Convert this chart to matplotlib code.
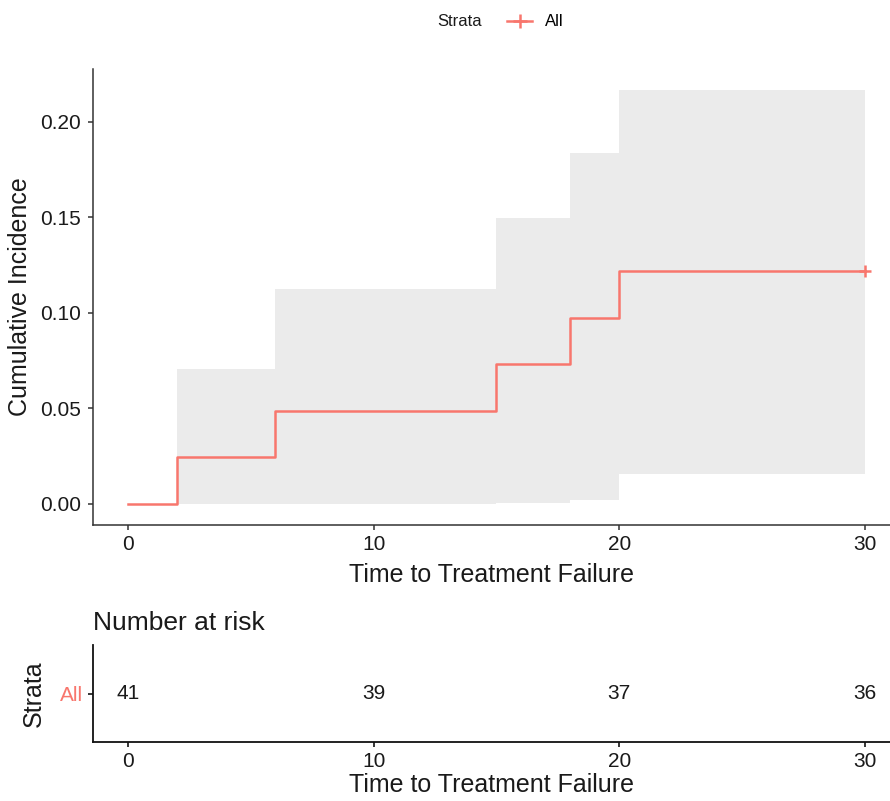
import matplotlib
matplotlib.use("Agg")
import matplotlib.pyplot as plt
from matplotlib.lines import Line2D

# cumulative incidence estimate (step function) with CI
time = [0, 2, 6, 15, 18, 20, 30]
estimate = [0, 0.0244, 0.0488, 0.0732, 0.0976, 0.1220, 0.1220]
upper = [0, 0.0708, 0.1124, 0.1497, 0.1838, 0.2168, 0.2168]
lower = [0, 0, 0, 0.0005, 0.0022, 0.0157, 0.0157]
censor_time = [30]
censor_est = [0.1220]

# number at risk table
risk_times = [0, 10, 20, 30]
n_risk = [41, 39, 37, 36]

x_ticks = [0, 10, 20, 30]
y_ticks = [0.00, 0.05, 0.10, 0.15, 0.20]

RED = "#F8766D"
TXT = "#1a1a1a"
plt.rcParams['font.family'] = ['Liberation Sans', 'DejaVu Sans']

W, H = 890, 801
fig = plt.figure(figsize=(W / 100, H / 100), dpi=100)

def px_axes(left, top, right, bottom):
    return fig.add_axes([left / W, 1 - bottom / H, (right - left) / W, (bottom - top) / H])

xlim = (-1.425, 31.02)

# main plot
ax = px_axes(93, 69, 890, 525)
ax.fill_between(time[1:], lower[1:], upper[1:], step="post", color="#EBEBEB", lw=0)
ax.step(time, estimate, where="post", color=RED, lw=1.8)
ax.plot(censor_time, censor_est, marker="+", ms=9, mew=1.8, color=RED, ls="none")
ax.set_xlim(*xlim)
ax.set_ylim(-0.011, 0.2277)
ax.set_xticks(x_ticks)
ax.set_yticks(y_ticks)
ax.set_yticklabels([f"{v:.2f}" for v in y_ticks])
for s in ["top", "right"]:
    ax.spines[s].set_visible(False)
for s in ["left", "bottom"]:
    ax.spines[s].set_linewidth(1.1)
    ax.spines[s].set_color("#333333")
ax.tick_params(labelsize=15, colors="#333333", labelcolor=TXT, length=3.5, width=1.1)
ax.tick_params(axis="y", pad=5)
ax.set_xlabel("Time to Treatment Failure", fontsize=18, labelpad=7, color=TXT)
ax.set_ylabel("Cumulative Incidence", fontsize=18, labelpad=6, color=TXT)

# legend on top: "Strata" title placed inline to the left of the key
fig.text(460 / W, 1 - 22 / H, "Strata", fontsize=12, ha="center", va="center", color=TXT)
handle = Line2D([0], [0], color=RED, lw=1.8, marker="+", ms=10, mew=1.8)
fig.legend([handle], ["All"], loc="center left", bbox_to_anchor=(507 / W, 1 - 22 / H),
           frameon=False, fontsize=12, handlelength=1.5, handletextpad=0.75,
           borderpad=0, borderaxespad=0)

# risk table
rt = px_axes(93, 645, 890, 742)
for t, n in zip(risk_times, n_risk):
    rt.text(t, 0, str(n), ha="center", va="center", fontsize=15, color=TXT)
rt.set_xlim(*xlim)
rt.set_ylim(-1, 1)
rt.set_xticks(x_ticks)
rt.set_yticks([0])
rt.set_yticklabels(["All"], fontsize=15, color=RED)
for s in ["top", "right"]:
    rt.spines[s].set_visible(False)
for s in ["left", "bottom"]:
    rt.spines[s].set_linewidth(1.3)
    rt.spines[s].set_color("#111111")
rt.tick_params(axis="x", labelsize=15, labelcolor=TXT, length=3.5, width=1.1)
rt.tick_params(axis="y", length=3.5, width=1.1, pad=4)
rt.set_xlabel("Time to Treatment Failure", fontsize=18, labelpad=2, color=TXT)
rt.set_ylabel("Strata", fontsize=18, labelpad=10, color=TXT)
rt.set_title("Number at risk", loc="left", fontsize=19, pad=11, color=TXT)

fig.savefig("out.png", dpi=100)
